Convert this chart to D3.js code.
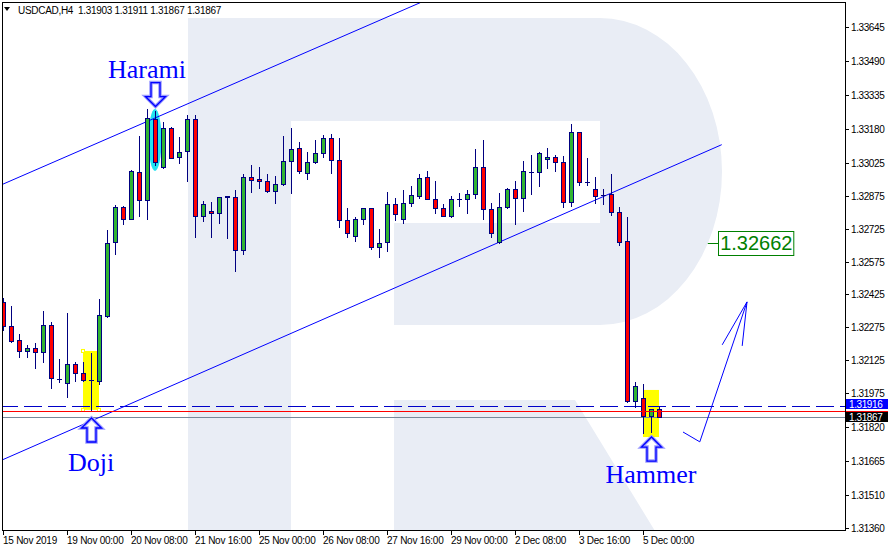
<!DOCTYPE html>
<html><head><meta charset="utf-8">
<script src="https://cdn.jsdelivr.net/npm/d3@7"></script>
<style>html,body{margin:0;padding:0;background:#fff;} svg{display:block;}</style>
</head><body>
<svg id="c" width="891" height="551"></svg>
<script>
// ---------- data ----------
const symbol = "USDCAD,H4";
const headerValues = ["1.31903", "1.31911", "1.31867", "1.31867"];

const opens = [1.32391,1.32282,1.32217,1.32167,1.32180,1.32163,1.32286,1.32040,1.32021,1.32108,
1.32066,1.32035,1.32030,1.32327,1.32665,1.32825,1.32770,1.32985,1.32857,1.33226,
1.33008,1.33185,1.33053,1.33081,1.33227,1.32784,1.32807,1.32798,1.32870,1.32870,
1.32628,1.32962,1.32953,1.32943,1.32898,1.32930,1.33035,1.33094,1.32980,1.33030,
1.33071,1.33140,1.33039,1.32765,1.32693,1.32770,1.32820,1.32642,1.32665,1.32839,
1.32770,1.32843,1.32875,1.32962,1.32861,1.32820,1.32784,1.32862,1.32861,1.32884,
1.33007,1.32816,1.32665,1.32825,1.32907,1.32866,1.32986,1.32985,1.33044,1.33053,
1.33030,1.32848,1.33167,1.32940,1.32907,1.32881,1.32884,1.32802,1.32670,1.31939,
1.31953,1.31870,1.31903];
const highs = [1.32409,1.32373,1.32245,1.32194,1.32203,1.32349,1.32300,1.32131,1.32340,1.32117,
1.32117,1.32158,1.32405,1.32720,1.32834,1.32829,1.32994,1.33149,1.33272,1.33262,
1.33213,1.33190,1.33145,1.33244,1.33244,1.32852,1.32848,1.32870,1.32875,1.32902,
1.32976,1.33016,1.33007,1.32976,1.32967,1.33149,1.33185,1.33122,1.33076,1.33131,
1.33153,1.33158,1.33140,1.32820,1.32779,1.32822,1.32822,1.32724,1.32893,1.32866,
1.32902,1.32921,1.32976,1.32989,1.32943,1.32839,1.32875,1.32889,1.32902,1.33090,
1.33131,1.32843,1.32889,1.32911,1.32943,1.33035,1.33062,1.33076,1.33094,1.33062,
1.33058,1.33204,1.33169,1.33048,1.32962,1.32907,1.32976,1.32825,1.32779,1.32026,
1.32017,1.31902,1.31911];
const lows = [1.32263,1.32208,1.32140,1.32140,1.32089,1.32117,1.31998,1.32026,1.31957,1.32030,
1.32030,1.31893,1.32017,1.32322,1.32610,1.32747,1.32768,1.32784,1.32770,1.33016,
1.33003,1.33046,1.33025,1.32943,1.32688,1.32761,1.32688,1.32752,1.32684,1.32532,
1.32610,1.32893,1.32911,1.32893,1.32843,1.32925,1.32889,1.32980,1.32953,1.33025,
1.33053,1.32980,1.32733,1.32688,1.32670,1.32747,1.32633,1.32596,1.32624,1.32765,
1.32752,1.32829,1.32866,1.32859,1.32797,1.32782,1.32779,1.32829,1.32797,1.32866,
1.32770,1.32688,1.32660,1.32820,1.32747,1.32806,1.32884,1.32921,1.33003,1.32989,
1.32825,1.32829,1.32925,1.32925,1.32843,1.32839,1.32788,1.32651,1.31934,1.31911,
1.31793,1.31797,1.31867];
const closes = [1.32282,1.32213,1.32167,1.32180,1.32163,1.32286,1.32043,1.32038,1.32108,1.32066,
1.32035,1.32033,1.32331,1.32660,1.32825,1.32770,1.32989,1.32857,1.33231,1.33030,
1.33185,1.33048,1.33076,1.33227,1.32784,1.32839,1.32798,1.32869,1.32873,1.32628,
1.32962,1.32948,1.32943,1.32898,1.32930,1.33035,1.33090,1.32989,1.33030,1.33071,
1.33140,1.33039,1.32765,1.32706,1.32770,1.32820,1.32642,1.32660,1.32839,1.32793,
1.32843,1.32880,1.32957,1.32861,1.32820,1.32784,1.32861,1.32860,1.32884,1.33007,
1.32816,1.32706,1.32825,1.32907,1.32866,1.32989,1.32984,1.33071,1.33053,1.33030,
1.32848,1.33167,1.32939,1.32938,1.32875,1.32879,1.32802,1.32665,1.31939,1.32007,
1.31870,1.31902,1.31867];

const xTickBars = [0, 8, 16, 24, 32, 40, 48, 56, 64, 72, 80];
const xTickLabels = ["15 Nov 2019","19 Nov 00:00","20 Nov 08:00","21 Nov 16:00","25 Nov 00:00",
  "26 Nov 08:00","27 Nov 16:00","29 Nov 00:00","2 Dec 08:00","3 Dec 16:00","5 Dec 00:00"];
const yTicks = [1.33645,1.33490,1.33335,1.33180,1.33025,1.32875,1.32725,1.32575,1.32425,
  1.32275,1.32125,1.31975,1.31820,1.31665,1.31510,1.31360];

// objects (bar index, price)
const channelUpper = [[-1, 1.32913], [53, 1.33771]];
const channelLower = [[-1, 1.31655], [89.84, 1.33109]];
const levelDashed = 1.31916;
const levelRed = 1.31891;
const levelBid = 1.31867;
const targetLevel = 1.32662;
const targetLabel = "1.32662";
const targetTick = [88.1, 89.4];
const projection = [[85, 1.31797], [87.1, 1.31752], [93, 1.32391]];
const projectionHeadA = [[93, 1.32391], [89.9, 1.32195]];
const projectionHeadB = [[93, 1.32391], [92.4, 1.32190]];
const dojiBox = {from: 10, to: 12, top: 1.32167, bottom: 1.31898};
const hammerBox = {from: 80, to: 82, top: 1.31989, bottom: 1.31774};
const haramiEllipse = {bar: 19, top: 1.33272, bottom: 1.32989};
const annotations = [
  {text: "Harami", bar: 18, price: 1.33414, arrowBar: 19, arrowTip: 1.33283, dir: "down"},
  {text: "Doji", bar: 11, price: 1.31619, arrowBar: 11, arrowTip: 1.31861, dir: "up"},
  {text: "Hammer", bar: 81, price: 1.31564, arrowBar: 81, arrowTip: 1.31774, dir: "up"}
];

// ---------- drawing ----------
const W = 891, H = 551;
const svg = d3.select("#c");
const x = d3.scaleLinear().domain([0, 82]).range([3, 659]);
const y = d3.scaleLinear().domain([1.31360, 1.33645]).range([527.7, 27.3]);
const px = v => Math.round(x(v)) + 0.5;
const py = v => Math.round(y(v)) + 0.5;

svg.append("rect").attr("width", W).attr("height", H).attr("fill", "#fff");
svg.append("defs").append("clipPath").attr("id", "clip")
  .append("rect").attr("x", 3).attr("y", 3).attr("width", 842).attr("height", 527);
const g = svg.append("g").attr("clip-path", "url(#clip)");

// watermark logo
g.append("path")
  .attr("d", "M188,18H291V531H188Z M291,18H600A122,153.5 0 0 1 600,325H394V223H600V121H291Z M394,400H575L655,531H394Z")
  .attr("fill", "#e9edf5");

// highlight boxes
[dojiBox, hammerBox].forEach(b => {
  g.append("rect").attr("x", x(b.from)).attr("y", y(b.top))
    .attr("width", x(b.to) - x(b.from)).attr("height", y(b.bottom) - y(b.top))
    .attr("fill", "#ffff00");
});
[[dojiBox.from, dojiBox.top], [dojiBox.from, dojiBox.bottom], [dojiBox.to, dojiBox.bottom]].forEach(([b, p]) => {
  g.append("rect").attr("x", x(b) - 1.5).attr("y", y(p) - 1.5).attr("width", 3).attr("height", 3)
    .attr("fill", "#fff").attr("stroke", "#ffff00").attr("stroke-width", 1);
});
g.append("ellipse").attr("cx", x(haramiEllipse.bar))
  .attr("cy", (y(haramiEllipse.top) + y(haramiEllipse.bottom)) / 2)
  .attr("rx", 6.5).attr("ry", (y(haramiEllipse.bottom) - y(haramiEllipse.top)) / 2)
  .attr("fill", "#22e4f0");

// horizontal levels
g.append("line").attr("x1", 0).attr("x2", 845).attr("y1", py(levelDashed)).attr("y2", py(levelDashed))
  .attr("stroke", "#0000c8").attr("stroke-dasharray", "18,6");
g.append("line").attr("x1", 0).attr("x2", 845).attr("y1", py(levelBid)).attr("y2", py(levelBid))
  .attr("stroke", "#778899");

// channel lines
const line = d3.line().x(d => x(d[0])).y(d => y(d[1]));
[channelUpper, channelLower].forEach(c => {
  g.append("path").attr("d", line(c)).attr("fill", "none").attr("stroke", "#0000ff").attr("stroke-width", 1);
});

// candles
const idx = d3.range(opens.length);
const cg = g.append("g");
idx.forEach(i => {
  const cx = px(i);
  cg.append("line").attr("x1", cx).attr("x2", cx).attr("y1", Math.round(y(highs[i]))).attr("y2", Math.round(y(lows[i])) + 1)
    .attr("stroke", "#000080");
  const top = Math.round(y(Math.max(opens[i], closes[i])));
  const bot = Math.round(y(Math.min(opens[i], closes[i])));
  if (bot - top < 1) {
    cg.append("line").attr("x1", cx - 2.5).attr("x2", cx + 2.5).attr("y1", top + 0.5).attr("y2", top + 0.5)
      .attr("stroke", "#000080");
  } else {
    cg.append("rect").attr("x", cx - 2).attr("y", top + 0.5).attr("width", 4).attr("height", bot - top)
      .attr("fill", closes[i] >= opens[i] ? "#32b432" : "#ff0000")
      .attr("stroke", "#000080").attr("stroke-width", 1);
  }
});

// red level (on top)
svg.append("line").attr("x1", 3).attr("x2", 888).attr("y1", py(levelRed)).attr("y2", py(levelRed))
  .attr("stroke", "#ff0000");

// projection arrow
[projection, projectionHeadA, projectionHeadB].forEach(p => {
  g.append("path").attr("d", line(p)).attr("fill", "none").attr("stroke", "#0000ff").attr("stroke-width", 1);
});

// target label
g.append("line").attr("x1", x(targetTick[0])).attr("x2", x(targetTick[1]))
  .attr("y1", py(targetLevel)).attr("y2", py(targetLevel)).attr("stroke", "#008000");
const tl = g.append("text").attr("x", x(targetTick[1]) + 2).attr("y", y(targetLevel) + 7)
  .attr("font-family", "Liberation Sans, Arial, sans-serif").attr("font-size", 20)
  .attr("fill", "#008000").text(targetLabel);
const bb = tl.node().getBBox();
g.insert("rect", "text").attr("x", Math.round(x(targetTick[1])) + 0.5).attr("y", Math.round(y(targetLevel)) - 11.5)
  .attr("width", bb.width + 3).attr("height", 24).attr("fill", "#fff").attr("stroke", "#008000");
tl.raise();

// annotations + hollow arrows
annotations.forEach(a => {
  const ax = x(a.arrowBar) + 0.5, ty = y(a.arrowTip);
  const s = a.dir === "up" ? 1 : -1;
  const hb = ty + s * 10, end = ty + s * 24;
  const d = `M${ax},${ty} L${ax + 10},${hb} L${ax + 4.5},${hb} L${ax + 4.5},${end} L${ax - 4.5},${end} L${ax - 4.5},${hb} L${ax - 10},${hb} Z`;
  g.append("path").attr("d", d).attr("fill", "#fff").attr("stroke", "#9a9aff").attr("stroke-width", 3.5).attr("stroke-linejoin", "miter");
  g.append("path").attr("d", d).attr("fill", "none").attr("stroke", "#0000ff").attr("stroke-width", 1.3);
  g.append("text").attr("x", x(a.bar)).attr("y", y(a.price)).attr("text-anchor", "middle")
    .attr("font-family", "Liberation Serif, Times New Roman, serif").attr("font-size", 26)
    .attr("fill", "#0000ff").text(a.text);
});

// frame
svg.append("rect").attr("x", 2.5).attr("y", 2.5).attr("width", 843).attr("height", 528)
  .attr("fill", "none").attr("stroke", "#000");

// y axis
const font = "Liberation Sans, Arial, sans-serif";
yTicks.forEach(v => {
  const yy = py(v);
  svg.append("line").attr("x1", 846).attr("x2", 849).attr("y1", yy).attr("y2", yy).attr("stroke", "#000");
  svg.append("text").attr("x", 851).attr("y", yy + 3.5).attr("font-family", font).attr("font-size", 10)
    .attr("letter-spacing", -0.4).attr("fill", "#000").text(v.toFixed(5));
});
// price boxes
[[levelDashed, "#0000ff", -1.5], [levelBid, "#000000", 0]].forEach(([v, col, off]) => {
  const yy = y(v) + off;
  svg.append("rect").attr("x", 846).attr("y", Math.round(yy) - 5).attr("width", 42).attr("height", 10).attr("fill", col);
  svg.append("text").attr("x", 849).attr("y", Math.round(yy) + 3.5).attr("font-family", font).attr("font-size", 10)
    .attr("letter-spacing", -0.4).attr("fill", "#fff").text(v.toFixed(5));
});

// x axis
xTickBars.forEach((b, k) => {
  const xx = px(b);
  svg.append("line").attr("x1", xx).attr("x2", xx).attr("y1", 531).attr("y2", 535).attr("stroke", "#000");
  svg.append("text").attr("x", xx - 0.5).attr("y", 544).attr("font-family", font).attr("font-size", 10)
    .attr("letter-spacing", -0.25).attr("fill", "#000").text(xTickLabels[k]);
});

// header
svg.append("path").attr("d", "M4,7H10L7,11Z").attr("fill", "#000");
svg.append("text").attr("x", 18).attr("y", 14).attr("font-family", font).attr("font-size", 10)
  .attr("letter-spacing", -0.3).attr("fill", "#000").attr("xml:space", "preserve")
  .text(symbol + "  " + headerValues.join(" "));
</script>
</body></html>
